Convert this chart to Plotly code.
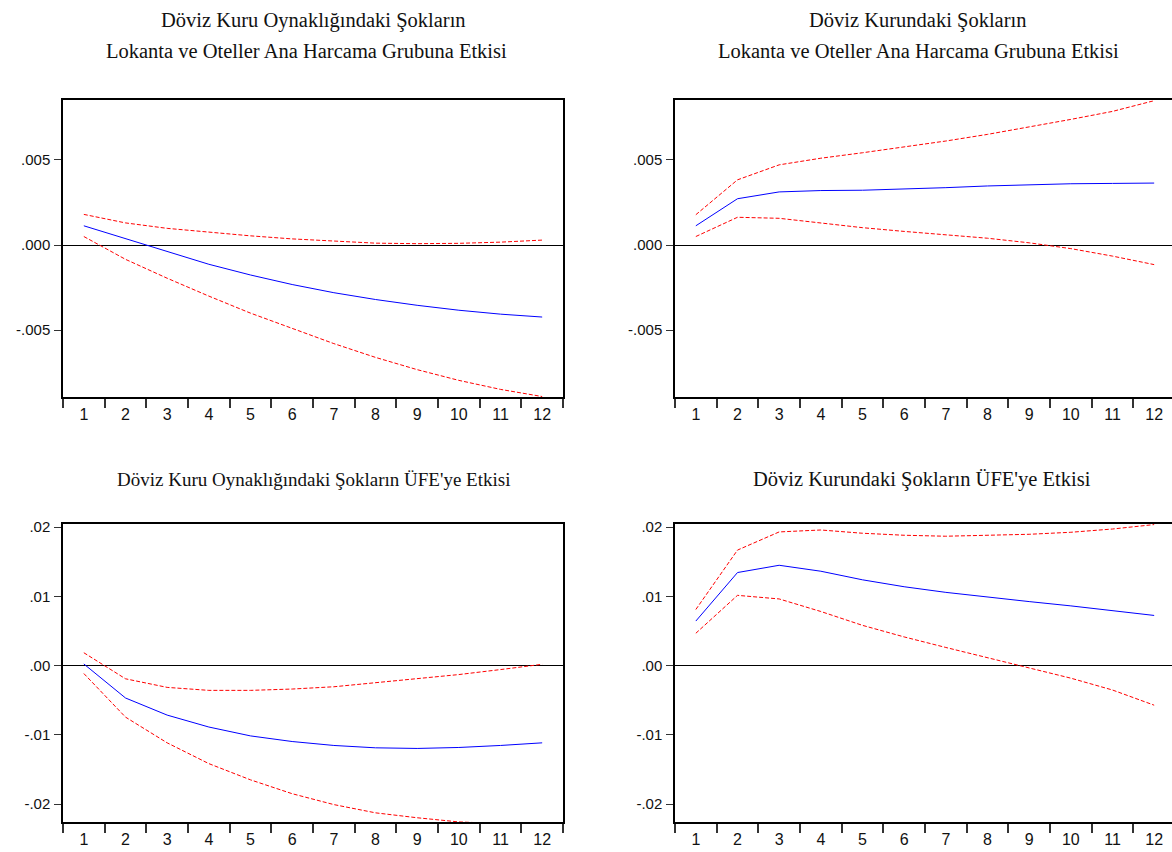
import plotly.graph_objects as go

W, H = 1172, 852

periods = list(range(1, 13))

# Döviz kuru oynaklığı -> Lokanta ve oteller
vol_hotel_resp = [0.00113, 0.00038, -0.00036, -0.00113, -0.00176, -0.00232,
                  -0.00280, -0.00320, -0.00354, -0.00383, -0.00406, -0.00423]
vol_hotel_upper = [0.00180, 0.00130, 0.00098, 0.00075, 0.00054, 0.00036,
                   0.00023, 0.00011, 0.00008, 0.00010, 0.00017, 0.00029]
vol_hotel_lower = [0.00050, -0.00084, -0.00195, -0.00300, -0.00400, -0.00490,
                   -0.00579, -0.00660, -0.00732, -0.00795, -0.00848, -0.00890]

# Döviz kuru -> Lokanta ve oteller
fx_hotel_resp = [0.00113, 0.00272, 0.00312, 0.00320, 0.00322, 0.00328,
                 0.00337, 0.00347, 0.00354, 0.00360, 0.00362, 0.00364]
fx_hotel_upper = [0.00178, 0.00383, 0.00471, 0.00510, 0.00542, 0.00575,
                  0.00611, 0.00650, 0.00693, 0.00738, 0.00785, 0.00848]
fx_hotel_lower = [0.00050, 0.00163, 0.00157, 0.00130, 0.00102, 0.00080,
                  0.00059, 0.00040, 0.00013, -0.00021, -0.00065, -0.00115]

# Döviz kuru oynaklığı -> ÜFE
vol_ppi_resp = [0.00024, -0.00467, -0.00714, -0.00886, -0.01014, -0.01095,
                -0.01152, -0.01186, -0.01195, -0.01181, -0.01152, -0.01114]
vol_ppi_upper = [0.00186, -0.00190, -0.00314, -0.00357, -0.00357, -0.00338,
                 -0.00305, -0.00248, -0.00195, -0.00129, -0.00057, 0.00019]
vol_ppi_lower = [-0.00114, -0.00743, -0.01114, -0.01414, -0.01648, -0.01848,
                 -0.02005, -0.02124, -0.02195, -0.02255, -0.02280, -0.02300]

# Döviz kuru -> ÜFE
fx_ppi_resp = [0.00643, 0.01343, 0.01448, 0.01362, 0.01238, 0.01138,
               0.01057, 0.00986, 0.00924, 0.00862, 0.00795, 0.00724]
fx_ppi_upper = [0.00810, 0.01667, 0.01929, 0.01957, 0.01910, 0.01881,
                0.01867, 0.01876, 0.01895, 0.01924, 0.01971, 0.02035]
fx_ppi_lower = [0.00467, 0.01014, 0.00962, 0.00781, 0.00581, 0.00414,
                0.00262, 0.00114, -0.00029, -0.00181, -0.00352, -0.00571]

# one entry per text line: (text, centre x px, centre y px, font size)
title_lines = [
    ("Döviz Kuru Oynaklığındaki Şokların", 313, 15, 20.5),
    ("Lokanta ve Oteller Ana Harcama Grubuna Etkisi", 306, 45.5, 20.5),
    ("Döviz Kurundaki Şokların", 918, 15, 20.5),
    ("Lokanta ve Oteller Ana Harcama Grubuna Etkisi", 918, 45.5, 20.5),
    ("Döviz Kuru Oynaklığındaki Şokların ÜFE'ye Etkisi", 313, 477, 19),
    ("Döviz Kurundaki Şokların ÜFE'ye Etkisi", 922, 477, 20.5),
]

top_ticks = [0.005, 0.0, -0.005]
top_tick_text = [".005", ".000", "-.005"]
bottom_ticks = [0.02, 0.01, 0.0, -0.01, -0.02]
bottom_tick_text = [".02", ".01", ".00", "-.01", "-.02"]

panels = [
    (vol_hotel_resp, vol_hotel_upper, vol_hotel_lower),
    (fx_hotel_resp, fx_hotel_upper, fx_hotel_lower),
    (vol_ppi_resp, vol_ppi_upper, vol_ppi_lower),
    (fx_ppi_resp, fx_ppi_upper, fx_ppi_lower),
]

# pixel boxes: (left, right, top, bottom)
boxes = [
    (63, 563, 95, 394),
    (675, 1172, 95, 394),
    (63, 563, 521.7, 821.7),
    (675, 1172, 521.7, 821.7),
]
cat_px = 500 / 12.0
y_ranges = [
    (-0.00894, 0.00850),
    (-0.00894, 0.00850),
    (-0.02255, 0.02043),
    (-0.02255, 0.02043),
]

fig = go.Figure()
layout = dict(
    width=W, height=H,
    margin=dict(l=0, r=0, t=0, b=0),
    paper_bgcolor="white", plot_bgcolor="white",
    showlegend=False,
    annotations=[],
)

y_tick_font = dict(family="Liberation Sans, Arial, sans-serif", size=15, color="#111111")
x_tick_font = dict(family="Liberation Sans, Arial, sans-serif", size=16, color="#111111")

for i, ((resp, up, lo), (l, r, t, b), yr) in enumerate(zip(panels, boxes, y_ranges)):
    n = i + 1
    xa = "x" if n == 1 else f"x{n}"
    ya = "y" if n == 1 else f"y{n}"
    for series, color, dash in ((up, "#ff0000", "4px,2px"),
                                (lo, "#ff0000", "4px,2px"),
                                (resp, "#0000ff", "solid")):
        fig.add_trace(go.Scatter(
            x=periods, y=series, mode="lines", xaxis=xa, yaxis=ya,
            line=dict(color=color, width=1, dash=dash),
            hoverinfo="skip",
        ))
    x_end = 0.5 + (r - l) / cat_px
    right_side = i % 2 == 1
    layout["xaxis" if n == 1 else f"xaxis{n}"] = dict(
        domain=[l / W, r / W], anchor=ya, range=[0.5, x_end],
        tickmode="array", tickvals=periods, ticktext=[str(p) for p in periods],
        ticks="outside", ticklen=2, tickcolor="rgba(0,0,0,0)",
        minor=dict(tick0=0.5, dtick=1, ticks="outside", ticklen=9,
                   tickcolor="#333333", tickwidth=1.5),
        showline=True, mirror=True, linecolor="black", linewidth=1.5,
        showgrid=False, zeroline=False, tickfont=x_tick_font, fixedrange=True,
    )
    is_top = i < 2
    layout["yaxis" if n == 1 else f"yaxis{n}"] = dict(
        domain=[1 - b / H, 1 - t / H], anchor=xa, range=list(yr),
        tickmode="array",
        tickvals=top_ticks if is_top else bottom_ticks,
        ticktext=top_tick_text if is_top else bottom_tick_text,
        ticks="outside", ticklen=7, tickcolor="#333333", tickwidth=1,
        ticklabelstandoff=1,
        showline=True, mirror=not right_side, linecolor="black", linewidth=1.5,
        showgrid=False, zeroline=True, zerolinecolor="black", zerolinewidth=1,
        tickfont=y_tick_font, fixedrange=True,
    )

for text, cx, cy, size in title_lines:
    layout["annotations"].append(dict(
        text=text, xref="paper", yref="paper", x=cx / W, y=1 - cy / H,
        xanchor="center", yanchor="middle", showarrow=False,
        font=dict(family="Liberation Serif, Times New Roman, serif", size=size, color="#111111"),
    ))

fig.update_layout(**layout)
fig.write_html("out.html")
